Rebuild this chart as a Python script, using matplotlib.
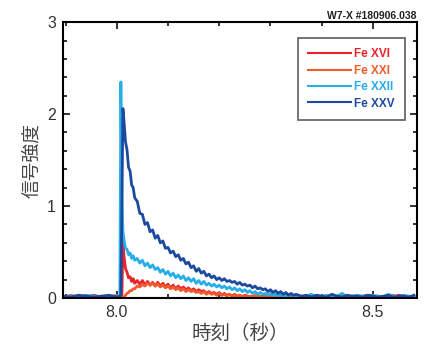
import matplotlib
matplotlib.use('Agg')
import matplotlib.pyplot as plt
from matplotlib.ticker import MultipleLocator

plt.rcParams['font.family'] = ['Liberation Sans', 'Noto Sans CJK JP', 'DejaVu Sans']

# time axis (s), shared by all four lines
time = [7.895, 7.910, 7.925, 7.940, 7.955, 7.970, 7.985, 8.000, 8.006,
        8.008, 8.010, 8.012, 8.014, 8.017, 8.020, 8.023, 8.026, 8.029, 8.032,
        8.035, 8.040, 8.045, 8.050, 8.055, 8.060, 8.065, 8.070, 8.075, 8.080,
        8.085, 8.090, 8.095, 8.100, 8.105, 8.110, 8.115, 8.120, 8.125, 8.130,
        8.135, 8.140, 8.145, 8.150, 8.155, 8.160, 8.165, 8.170, 8.175, 8.180,
        8.185, 8.190, 8.195, 8.200, 8.205, 8.210, 8.215, 8.220, 8.225, 8.230,
        8.235, 8.240, 8.245, 8.250, 8.255, 8.260, 8.265, 8.270, 8.275, 8.280,
        8.285, 8.290, 8.295, 8.300, 8.305, 8.310, 8.315, 8.320, 8.325, 8.330,
        8.335, 8.340, 8.345, 8.350,
        8.36, 8.37, 8.38, 8.39, 8.40, 8.41, 8.42, 8.43, 8.44, 8.45,
        8.46, 8.47, 8.48, 8.49, 8.50, 8.51, 8.52, 8.53, 8.54, 8.55,
        8.56, 8.57, 8.58]

fe16 = [0.02, 0.01, 0.02, 0.01, 0.03, 0.01, 0.02, 0.01, 0.02,
        0.02, 0.03, 0.65, 0.46, 0.32, 0.28, 0.22, 0.23, 0.18, 0.21,
        0.16, 0.19, 0.15, 0.19, 0.14, 0.18, 0.14, 0.17, 0.13, 0.17,
        0.13, 0.16, 0.12, 0.15, 0.11, 0.14, 0.10, 0.13, 0.10, 0.12,
        0.09, 0.11, 0.08, 0.10, 0.07, 0.09, 0.07, 0.08, 0.05, 0.07,
        0.05, 0.06, 0.04, 0.06, 0.03, 0.05, 0.03, 0.04, 0.02, 0.04,
        0.02, 0.03, 0.01, 0.03, 0.02, 0.01, 0.02, 0.01, 0.03, 0.01,
        0.02, 0.01, 0.02, 0.01, 0.02, 0.02, 0.01, 0.03, 0.01, 0.02,
        0.01, 0.02, 0.01, 0.02,
        0.01, 0.02, 0.01, 0.03, 0.01, 0.02, 0.02, 0.01, 0.03, 0.01,
        0.02, 0.01, 0.02, 0.03, 0.01, 0.02, 0.01, 0.02, 0.01, 0.03,
        0.02, 0.01, 0.02]

fe21 = [0.01, 0.03, 0.01, 0.02, 0.01, 0.02, 0.01, 0.03, 0.01,
        0.01, 0.01, 0.00, 0.01, 0.03, 0.05, 0.06, 0.08, 0.08, 0.10,
        0.10, 0.13, 0.12, 0.15, 0.13, 0.16, 0.14, 0.16, 0.13, 0.15,
        0.12, 0.14, 0.11, 0.13, 0.10, 0.12, 0.09, 0.11, 0.08, 0.10,
        0.07, 0.09, 0.07, 0.08, 0.06, 0.07, 0.05, 0.07, 0.04, 0.06,
        0.04, 0.05, 0.03, 0.05, 0.03, 0.04, 0.02, 0.04, 0.02, 0.03,
        0.01, 0.03, 0.02, 0.02, 0.01, 0.02, 0.01, 0.03, 0.01, 0.02,
        0.01, 0.02, 0.01, 0.03, 0.01, 0.02, 0.01, 0.02, 0.02, 0.01,
        0.03, 0.01, 0.02, 0.01,
        0.02, 0.01, 0.03, 0.01, 0.02, 0.01, 0.02, 0.01, 0.03, 0.02,
        0.01, 0.02, 0.01, 0.03, 0.01, 0.02, 0.01, 0.02, 0.03, 0.01,
        0.02, 0.01, 0.02]

fe22 = [0.01, 0.02, 0.01, 0.03, 0.02, 0.01, 0.02, 0.02, 0.01,
        2.35, 1.10, 0.72, 0.64, 0.54, 0.53, 0.47, 0.49, 0.43, 0.46,
        0.41, 0.43, 0.38, 0.41, 0.35, 0.38, 0.33, 0.36, 0.31, 0.33,
        0.28, 0.31, 0.26, 0.29, 0.24, 0.27, 0.22, 0.25, 0.21, 0.24,
        0.19, 0.22, 0.18, 0.21, 0.16, 0.19, 0.15, 0.18, 0.14, 0.16,
        0.13, 0.15, 0.12, 0.14, 0.11, 0.13, 0.10, 0.12, 0.09, 0.11,
        0.08, 0.10, 0.07, 0.09, 0.06, 0.08, 0.05, 0.07, 0.04, 0.06,
        0.04, 0.05, 0.03, 0.05, 0.03, 0.04, 0.02, 0.04, 0.02, 0.03,
        0.02, 0.04, 0.02, 0.03,
        0.01, 0.02, 0.04, 0.01, 0.02, 0.03, 0.01, 0.02, 0.05, 0.01,
        0.02, 0.03, 0.02, 0.01, 0.03, 0.02, 0.01, 0.04, 0.02, 0.01,
        0.03, 0.02, 0.01]

fe25 = [0.02, 0.01, 0.03, 0.02, 0.01, 0.02, 0.03, 0.01, 0.02,
        0.03, 1.00, 2.06, 1.93, 1.70, 1.61, 1.42, 1.38, 1.23, 1.20,
        1.09, 1.05, 0.92, 0.91, 0.80, 0.82, 0.72, 0.74, 0.65, 0.68,
        0.60, 0.62, 0.54, 0.55, 0.49, 0.51, 0.45, 0.47, 0.41, 0.43,
        0.37, 0.39, 0.33, 0.35, 0.29, 0.32, 0.27, 0.29, 0.24, 0.26,
        0.22, 0.24, 0.20, 0.22, 0.19, 0.21, 0.18, 0.19, 0.17, 0.18,
        0.15, 0.17, 0.14, 0.15, 0.13, 0.14, 0.11, 0.13, 0.10, 0.11,
        0.09, 0.10, 0.07, 0.09, 0.06, 0.08, 0.05, 0.07, 0.04, 0.06,
        0.03, 0.05, 0.03, 0.04,
        0.02, 0.03, 0.01, 0.03, 0.02, 0.01, 0.04, 0.02, 0.01, 0.03,
        0.02, 0.02, 0.01, 0.03, 0.02, 0.01, 0.02, 0.03, 0.01, 0.02,
        0.02, 0.01, 0.03]

labels = ['Fe XVI', 'Fe XXI', 'Fe XXII', 'Fe XXV']
colors = ['#e8232b', '#f15a2b', '#27aee8', '#1d4a9e']

fig = plt.figure(figsize=(4.27, 3.51), dpi=100)
ax = fig.add_axes([0.1475, 0.151, 0.829, 0.786])

for ys, lab, c in zip([fe16, fe21, fe22, fe25], labels, colors):
    ax.plot(time, ys, color=c, lw=2.0, label=lab)

ax.set_xlim(7.895, 8.586)
ax.set_ylim(0, 3)
ax.xaxis.set_major_locator(MultipleLocator(0.5))
ax.xaxis.set_minor_locator(MultipleLocator(0.1))
ax.yaxis.set_major_locator(MultipleLocator(1))
ax.yaxis.set_minor_locator(MultipleLocator(0.2))
ax.xaxis.set_major_formatter(matplotlib.ticker.FormatStrFormatter('%.1f'))
ax.tick_params(which='both', direction='in', top=True, right=True,
               width=1.2, colors='#111111', labelcolor='#333333', labelsize=11.5)
ax.tick_params(which='major', length=5, pad=5)
ax.tick_params(which='minor', length=3)
for s in ax.spines.values():
    s.set_linewidth(1.5)

ax.set_xlabel('時刻（秒）', family=['Noto Sans CJK JP'], fontsize=14,
              color='#444444', labelpad=2)
ax.set_ylabel('信号強度', family=['Noto Sans CJK JP'], fontsize=13.5,
              color='#444444', labelpad=4)
ax.set_title('W7-X #180906.038', loc='right', fontsize=7.5, fontweight='bold',
             color='#222222', pad=2)

leg = ax.legend(loc='upper right', bbox_to_anchor=(0.966, 0.942), borderaxespad=0,
                fancybox=False, edgecolor='#444444', handlelength=3.6,
                handletextpad=0.3, labelspacing=0.38, borderpad=0.85,
                prop={'weight': 'bold', 'size': 8.5})
leg.get_frame().set_linewidth(1.3)
for txt, c in zip(leg.get_texts(), colors):
    txt.set_color(c)
for ln in leg.get_lines():
    ln.set_linewidth(1.5)

fig.savefig('out.png', dpi=100)
